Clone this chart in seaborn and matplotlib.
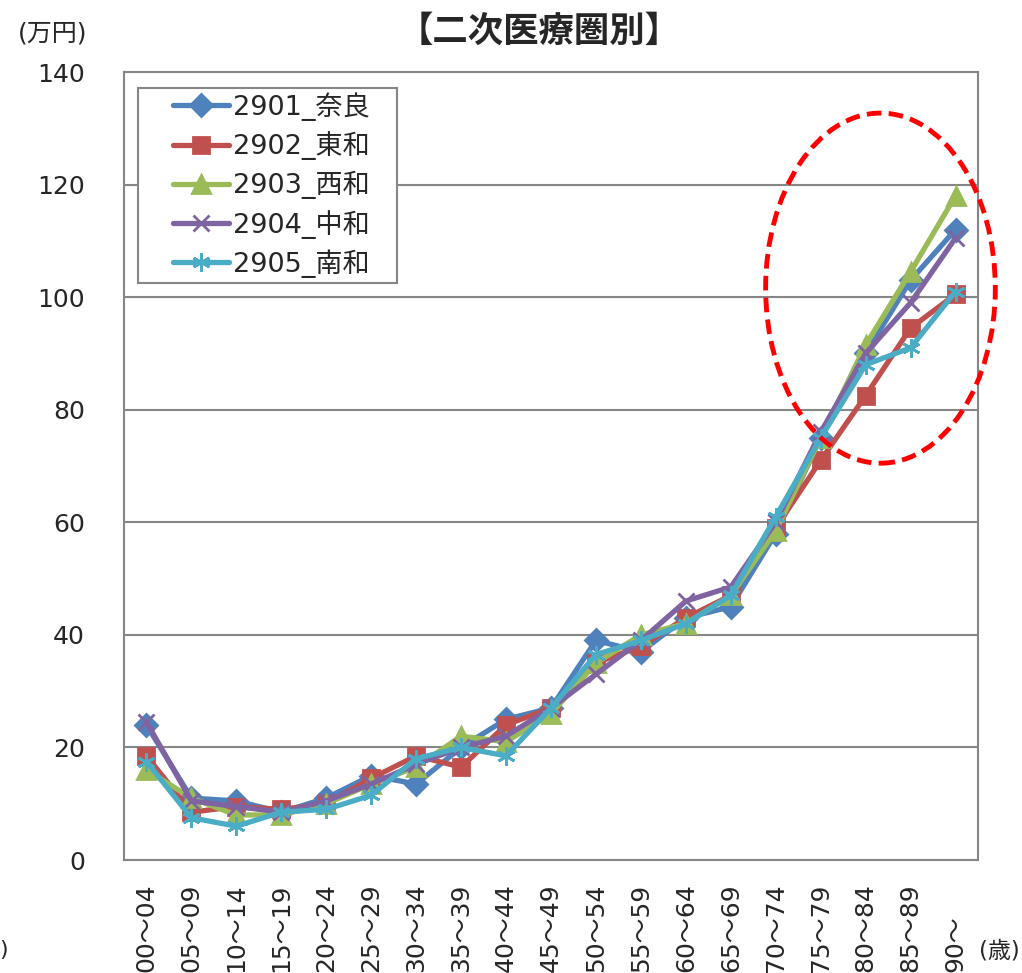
import pandas as pd
import matplotlib
matplotlib.use("Agg")
import matplotlib.pyplot as plt
from matplotlib.patches import Ellipse, Rectangle
import seaborn as sns

# age groups (x axis)
ages = ["00～04", "05～09", "10～14", "15～19", "20～24", "25～29", "30～34",
        "35～39", "40～44", "45～49", "50～54", "55～59", "60～64", "65～69",
        "70～74", "75～79", "80～84", "85～89", "90～"]

names = ["2901_奈良", "2902_東和", "2903_西和", "2904_中和", "2905_南和"]

nara = [24, 11, 10.5, 8.5, 11, 15, 13.5, 20, 25, 27, 39, 37, 43, 45, 58, 75, 90, 103, 112]
towa = [18.5, 8.5, 9.5, 9, 10, 14.5, 18.5, 16.5, 24, 27, 35, 38, 43, 47, 59, 71, 82.5, 94.5, 100.5]
seiwa = [16, 11, 8, 8, 10, 13.5, 16.5, 22, 21, 26, 35, 40, 42, 47, 58.5, 75, 91.5, 104.5, 118]
chuwa = [24.5, 10.5, 9.5, 8.5, 10.5, 13.5, 17, 20, 22, 27, 33, 39, 46, 48.5, 60, 76, 90, 99, 110.5]
nanwa = [17.5, 7.5, 6, 8.5, 9, 11.5, 18, 20, 18.5, 27, 36.5, 39, 42, 47, 61, 75, 88, 91, 101]

colors = ["#4F81BD", "#C0504D", "#9BBB59", "#8064A2", "#4BACC6"]
markers = ["D", "s", "^", "x", (6, 2, 0)]
msizes = [11, 12, 13, 11, 13]

rows = []
for name, vals in zip(names, [nara, towa, seiwa, chuwa, nanwa]):
    for i, v in enumerate(vals):
        rows.append({"age": i, "val": v, "area": name})
df = pd.DataFrame(rows)

sns.set_style("white")
plt.rcParams['font.family'] = ['DejaVu Sans', 'Noto Sans CJK JP']

W, H = 1022, 973
fig = plt.figure(figsize=(W / 100, H / 100), dpi=100)
ax = fig.add_axes([124 / W, 113 / H, 854 / W, 788 / H])

for name, c, m, ms in zip(names, colors, markers, msizes):
    sub = df[df["area"] == name]
    sns.lineplot(data=sub, x="age", y="val", ax=ax, color=c, lw=3.8,
                 marker=m, markersize=ms, markeredgecolor=c, markeredgewidth=2,
                 label=name, zorder=3)

ax.set_xlim(-0.5, len(ages) - 0.5)
ax.set_ylim(0, 140)
ax.set_yticks(range(0, 141, 20))
ax.yaxis.grid(True, color="#868686", lw=1.5)
ax.set_axisbelow(True)
for s in ax.spines.values():
    s.set_color("#868686")
    s.set_linewidth(1.5)
ax.set_xlabel("")
ax.set_ylabel("")

ax.set_xticks(range(len(ages)))
ax.set_xticklabels(ages, rotation=90, rotation_mode="anchor", ha="left",
                   va="center", fontsize=18)
ax.tick_params(axis="x", length=0, pad=81)
ax.tick_params(axis="y", length=0, pad=28, labelsize=18)

# red dashed ellipse around older ages
ell = Ellipse((16.33, 101.6), width=5.11, height=62.2, fill=False,
              edgecolor="red", lw=3.5, ls=(0, (3, 1.5)), clip_on=False, zorder=5)
ax.add_patch(ell)

# legend box (frame drawn separately to match the wide padding)
ax.add_patch(Rectangle((14 / 854, 1 - 211 / 788), 259 / 854, 195 / 788,
                       transform=ax.transAxes, facecolor="white",
                       edgecolor="#868686", lw=1.5, zorder=4))
leg = ax.legend(loc="upper left", bbox_to_anchor=(33 / 854, 1 - 4 / 788),
                fontsize=19.5, frameon=False, handlelength=2.07,
                labelspacing=0.39, borderpad=0.1, handletextpad=0.15)
leg.set_zorder(6)

fig.text(539 / W, 1 - 32 / H, "【二次医療圏別】", ha="center", va="center",
         fontsize=25.5, fontweight="bold")
fig.text(53 / W, 1 - 34 / H, "(万円)", ha="center", va="center", fontsize=18)
fig.text(999 / W, 1 - 951 / H, "(歳)", ha="center", va="center", fontsize=16.5)
fig.text(4 / W, 1 - 950 / H, ")", ha="center", va="center", fontsize=16)

fig.savefig("out.png", dpi=100)
